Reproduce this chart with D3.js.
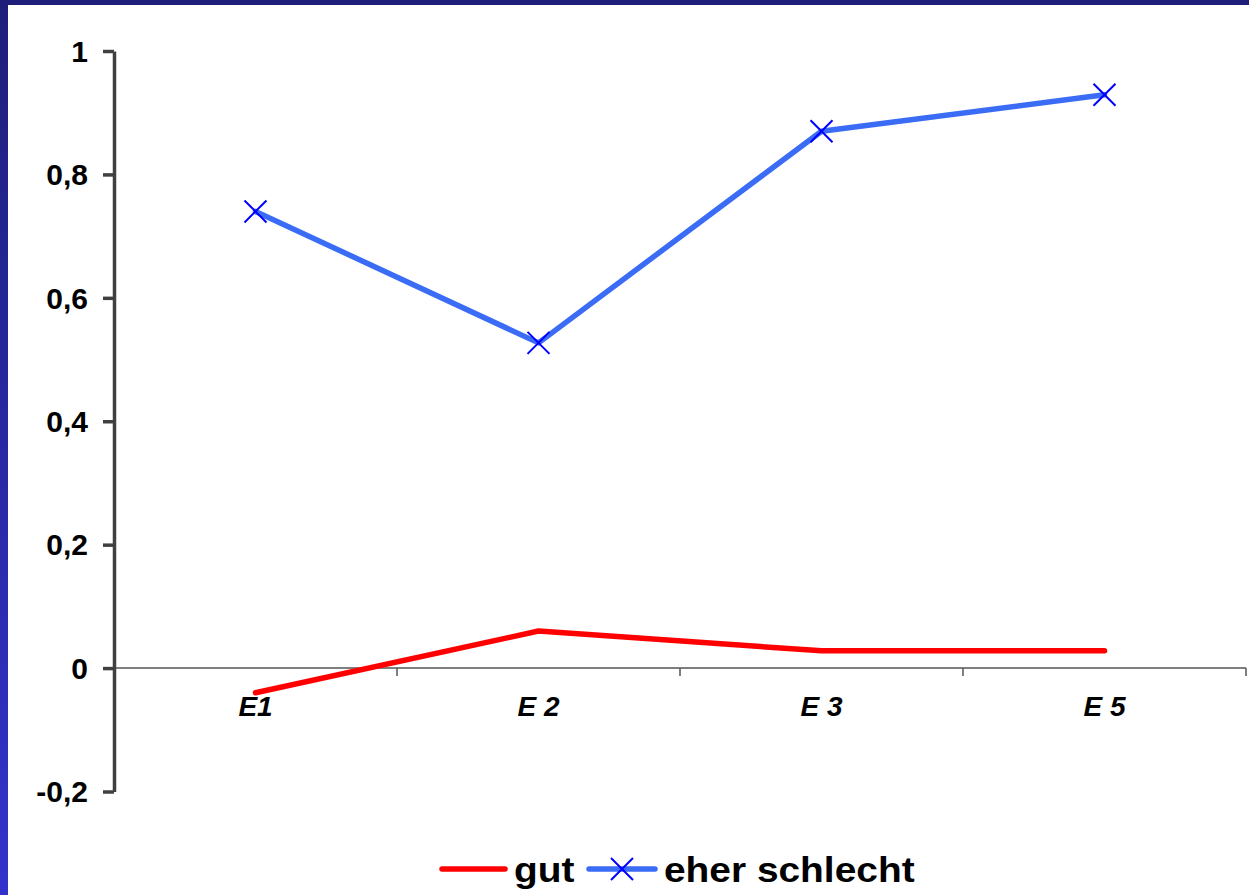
<!DOCTYPE html>
<html><head><meta charset="utf-8">
<script src="https://cdn.jsdelivr.net/npm/d3@7"></script>
<style>html,body{margin:0;padding:0;background:#fff;overflow:hidden}</style>
</head><body>
<svg id="c" width="1249" height="895"></svg>
<script>
const categories = ["E1", "E 2", "E 3", "E 5"];
const seriesNames = ["gut", "eher schlecht"];
const gutValues = [-0.04, 0.06, 0.028, 0.028];
const eherSchlechtValues = [0.74, 0.527, 0.87, 0.929];
const yTicks = [-0.2, 0, 0.2, 0.4, 0.6, 0.8, 1];
const yTickLabels = ["-0,2", "0", "0,2", "0,4", "0,6", "0,8", "1"];

const svg = d3.select("#c");
const font = "Arial, 'Liberation Sans', sans-serif";

// frame
const defs = svg.append("defs");
const g1 = defs.append("linearGradient").attr("id","lg").attr("x1",0).attr("y1",0).attr("x2",0).attr("y2",1);
g1.append("stop").attr("offset",0).attr("stop-color","#1e1e7a");
g1.append("stop").attr("offset",1).attr("stop-color","#3333cc");
svg.append("rect").attr("x",0).attr("y",0).attr("width",1249).attr("height",895).attr("fill","#fff");
svg.append("rect").attr("x",0).attr("y",0).attr("width",8).attr("height",895).attr("fill","url(#lg)");
svg.append("rect").attr("x",0).attr("y",0).attr("width",1249).attr("height",5).attr("fill","#1e1e7a");

const left = 114, right = 1246;
const x = d3.scaleBand().domain(categories).range([left, right]);
const y = d3.scaleLinear().domain([-0.2, 1]).range([791.5, 51]);

// x axis at zero
svg.append("line").attr("x1", left).attr("x2", right).attr("y1", y(0)).attr("y2", y(0))
  .attr("stroke", "#555").attr("stroke-width", 1.5);
const bounds = categories.map(c => x(c) + x.bandwidth());
svg.selectAll(".xt").data(bounds).enter().append("line")
  .attr("x1", d => d).attr("x2", d => d).attr("y1", y(0)).attr("y2", y(0) + 8)
  .attr("stroke", "#555").attr("stroke-width", 1.5);
svg.selectAll(".xl").data(categories).enter().append("text")
  .attr("x", d => x(d) + x.bandwidth() / 2).attr("y", 716)
  .attr("text-anchor", "middle").attr("font-family", font).attr("font-weight", "bold")
  .attr("font-style", "italic").attr("font-size", 28).attr("fill", "#000").text(d => d);

// y axis
const yAxis = d3.axisLeft(y).tickValues(yTicks).tickSize(11).tickSizeOuter(0)
  .tickFormat((d, i) => yTickLabels[i]).tickPadding(15);
const yg = svg.append("g").attr("transform", `translate(${left},0)`).call(yAxis);
yg.select(".domain").attr("stroke", "#404040").attr("stroke-width", 3.5);
yg.selectAll(".tick line").attr("stroke", "#404040").attr("stroke-width", 3.5);
yg.selectAll(".tick text").attr("font-family", font).attr("font-weight", "bold")
  .attr("font-size", 30).attr("fill", "#000").attr("dy", "0.34em");

const cx = d => x(d) + x.bandwidth() / 2;
const line = d3.line().x(d => cx(d.c)).y(d => y(d.v));
const gutData = categories.map((c, i) => ({c, v: gutValues[i]}));
const esData = categories.map((c, i) => ({c, v: eherSchlechtValues[i]}));

svg.append("path").datum(gutData).attr("d", line).attr("fill", "none")
  .attr("stroke", "#ff0000").attr("stroke-width", 5.5).attr("stroke-linejoin", "round").attr("stroke-linecap", "round");
svg.append("path").datum(esData).attr("d", line).attr("fill", "none")
  .attr("stroke", "#3a6cf6").attr("stroke-width", 5.5).attr("stroke-linejoin", "round").attr("stroke-linecap", "round");

const xs = 11;
const xMark = (sel, px, py) => {
  sel.append("path").attr("d", `M${px-xs},${py-xs}L${px+xs},${py+xs}M${px-xs},${py+xs}L${px+xs},${py-xs}`)
    .attr("stroke", "#0000ff").attr("stroke-width", 2).attr("fill", "none");
};
esData.forEach(d => xMark(svg, cx(d.c), y(d.v)));

// legend
const ly = 869;
svg.append("line").attr("x1", 442).attr("x2", 505).attr("y1", ly).attr("y2", ly)
  .attr("stroke", "#ff0000").attr("stroke-width", 5.5).attr("stroke-linecap", "round");
svg.append("text").attr("transform", "translate(514,882) scale(1.08,1)").attr("font-family", font).attr("font-weight", "bold")
  .attr("font-size", 36).attr("fill", "#000").text(seriesNames[0]);
svg.append("line").attr("x1", 589).attr("x2", 655).attr("y1", ly).attr("y2", ly)
  .attr("stroke", "#3a6cf6").attr("stroke-width", 5.5).attr("stroke-linecap", "round");
xMark(svg, 622, ly);
svg.append("text").attr("transform", "translate(664,882) scale(1.08,1)").attr("font-family", font).attr("font-weight", "bold")
  .attr("font-size", 36).attr("fill", "#000").text(seriesNames[1]);
</script>
</body></html>
